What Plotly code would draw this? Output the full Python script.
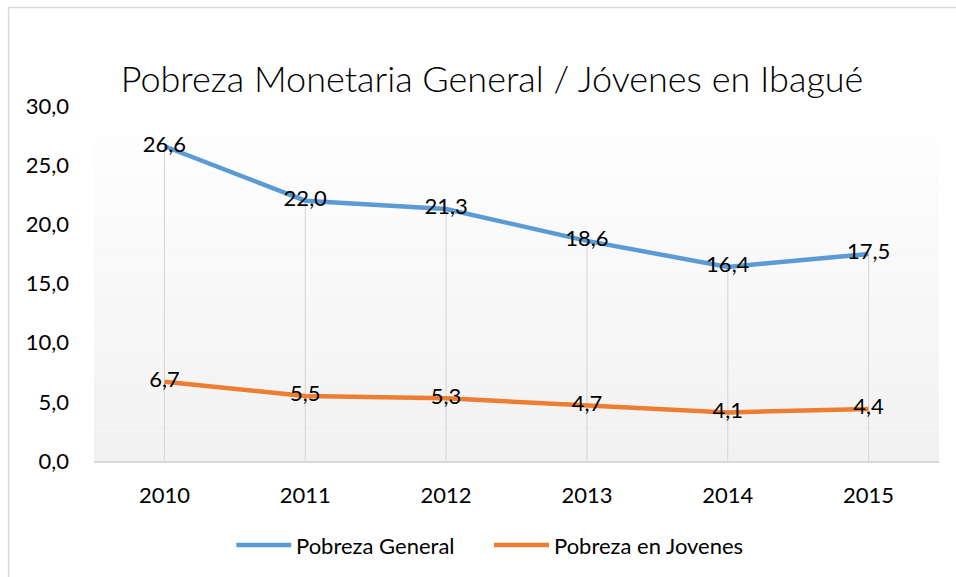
import plotly.graph_objects as go

# Data
years = ["2010", "2011", "2012", "2013", "2014", "2015"]
pobreza_general = [26.6, 22.0, 21.3, 18.6, 16.4, 17.5]
pobreza_jovenes = [6.7, 5.5, 5.3, 4.7, 4.1, 4.4]
y_ticks = [0, 5, 10, 15, 20, 25, 30]
series_names = ["Pobreza General", "Pobreza en Jovenes"]

BLUE = "#5b9bd5"
ORANGE = "#ed7d31"
FONT = "Lato"

# Plot area in pixels (for placing the hand-drawn legend and frame)
PX_L, PX_R, PX_T, PX_B = 93.5, 939.5, 106, 461


def fmt(v):
    return f"{v:.1f}".replace(".", ",")


def px_x(p):
    return (p - PX_L) / (PX_R - PX_L)


def px_y(p):
    return (PX_B - p) / (PX_B - PX_T)


fig = go.Figure()

# Drop lines from the highest point of each category down to the axis
drop_x, drop_y = [], []
for yr, a, b in zip(years, pobreza_general, pobreza_jovenes):
    drop_x += [yr, yr, None]
    drop_y += [0, max(a, b), None]
fig.add_trace(go.Scatter(
    x=drop_x, y=drop_y, mode="lines",
    line=dict(color="#d9d9d9", width=1.2),
    hoverinfo="skip", showlegend=False,
))

for name, vals, color in [(series_names[0], pobreza_general, BLUE),
                          (series_names[1], pobreza_jovenes, ORANGE)]:
    fig.add_trace(go.Scatter(
        x=years, y=vals, name=name,
        mode="lines+text", text=[fmt(v) for v in vals],
        textposition="middle center",
        textfont=dict(family=FONT, size=22, color="#000000"),
        line=dict(color=color, width=4.5),
        showlegend=False,
    ))

# Plot-area vertical gradient (white at top to light grey at bottom)
n_bands = 60
shapes = []
for i in range(n_bands):
    t = (i + 0.5) / n_bands  # 0 at bottom, 1 at top
    c = round(241 + (255 - 241) * t)
    shapes.append(dict(
        type="rect", xref="paper", yref="paper",
        x0=0, x1=1, y0=i / n_bands, y1=(i + 1) / n_bands,
        fillcolor=f"rgb({c},{c},{c})", line=dict(width=0), layer="below",
    ))

# Chart frame
shapes.append(dict(
    type="rect", xref="paper", yref="paper",
    x0=px_x(8), x1=px_x(965), y0=px_y(585), y1=px_y(7.5),
    line=dict(color="#d9d9d9", width=1.5), fillcolor="rgba(0,0,0,0)",
    layer="below",
))

# Legend: long line keys with labels, centred below the axis
annotations = []
legend_y = px_y(545)
for name, color, x0 in [(series_names[0], BLUE, 236),
                        (series_names[1], ORANGE, 494)]:
    shapes.append(dict(
        type="line", xref="paper", yref="paper",
        x0=px_x(x0), x1=px_x(x0 + 55), y0=legend_y, y1=legend_y,
        line=dict(color=color, width=4.5),
    ))
    annotations.append(dict(
        text=name, xref="paper", yref="paper",
        x=px_x(x0 + 58), y=legend_y, xanchor="left", yanchor="middle",
        showarrow=False,
        font=dict(family=FONT, size=22, color="#000000"),
    ))

fig.update_layout(
    width=956, height=577,
    margin=dict(l=PX_L, r=956 - PX_R, t=PX_T, b=577 - PX_B),
    paper_bgcolor="#ffffff", plot_bgcolor="#ffffff",
    separators=",.",
    font=dict(family=FONT, size=22, color="#000000"),
    title=dict(
        text="Pobreza Monetaria General / Jóvenes en Ibagué",
        x=492 / 956, xanchor="center", xref="container",
        y=1 - 79 / 577, yanchor="middle", yref="container",
        font=dict(family=FONT, size=36, color="#000000", weight=300),
    ),
    showlegend=False,
    shapes=shapes,
    annotations=annotations,
)

fig.update_xaxes(
    type="category", categoryorder="array", categoryarray=years,
    range=[-0.5, 5.5], showgrid=False, zeroline=False,
    showline=True, linecolor="#d9d9d9", linewidth=1.5,
    ticks="", ticklabelstandoff=14,
    tickfont=dict(family=FONT, size=22, color="#000000"),
)
fig.update_yaxes(
    range=[0, 30], tickvals=y_ticks, ticktext=[fmt(v) for v in y_ticks],
    showgrid=False, zeroline=False, showline=False,
    ticks="", ticklabelstandoff=24,
    tickfont=dict(family=FONT, size=22, color="#000000"),
)

fig.write_html("out.html")
